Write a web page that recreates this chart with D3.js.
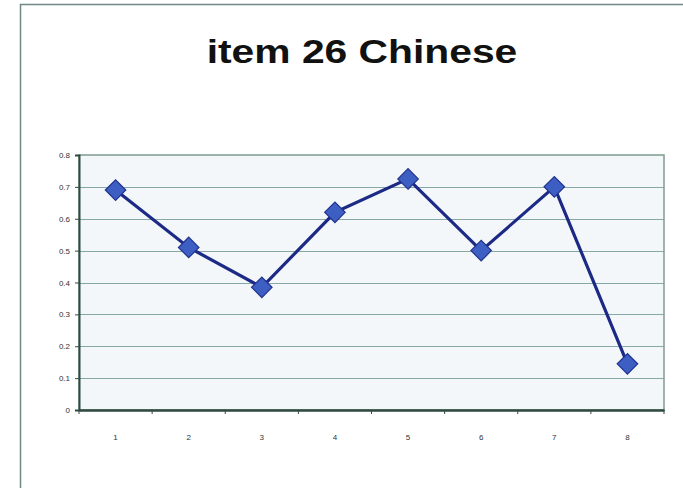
<!DOCTYPE html>
<html>
<head>
<meta charset="utf-8">
<script src="https://cdn.jsdelivr.net/npm/d3@7"></script>
<style>
    body { margin: 0; background: #fff; }
    svg { display: block; font-family: "Liberation Sans", Arial, sans-serif; }
</style>
</head>
<body>
<svg id="chart" width="683" height="488"></svg>
<script>
"use strict";

// data
const title = "item 26 Chinese";
const categories = ["1", "2", "3", "4", "5", "6", "7", "8"];
const values = [0.69, 0.51, 0.385, 0.62, 0.725, 0.50, 0.70, 0.145];
const yTicks = [0, 0.1, 0.2, 0.3, 0.4, 0.5, 0.6, 0.7, 0.8];

const svg = d3.select("#chart");
const plot = { left: 79, right: 664, top: 155, bottom: 410 };

// outer frame
svg.append("path")
    .attr("d", "M20.5,488 V4.5 H683")
    .attr("fill", "none")
    .attr("stroke", "#6f8884")
    .attr("stroke-width", 1.5);

svg.append("text")
    .attr("x", 0).attr("y", 0)
    .attr("transform", "translate(362,63) scale(1.2,1)")
    .attr("text-anchor", "middle")
    .attr("font-size", 34)
    .attr("font-weight", "bold")
    .attr("fill", "#111")
    .text(title);

const x = d3.scaleBand().domain(categories).range([plot.left, plot.right]);
const y = d3.scaleLinear().domain([0, 0.8]).range([plot.bottom, plot.top]);

svg.append("rect")
    .attr("x", plot.left).attr("y", plot.top)
    .attr("width", plot.right - plot.left).attr("height", plot.bottom - plot.top)
    .attr("fill", "#f3f7fa");

// gridlines
svg.append("g")
    .selectAll("line")
    .data(yTicks.slice(1, -1))
    .join("line")
    .attr("x1", plot.left).attr("x2", plot.right)
    .attr("y1", d => Math.round(y(d)) + 0.5).attr("y2", d => Math.round(y(d)) + 0.5)
    .attr("stroke", "#86a8a6")
    .attr("stroke-width", 1.2);

svg.append("rect")
    .attr("x", plot.left).attr("y", plot.top)
    .attr("width", plot.right - plot.left).attr("height", plot.bottom - plot.top)
    .attr("fill", "none")
    .attr("stroke", "#7f9c90")
    .attr("stroke-width", 1.5);

// y axis
const yAxis = svg.append("g")
    .attr("transform", `translate(${plot.left},0)`)
    .call(d3.axisLeft(y).tickValues(yTicks).tickSize(4).tickPadding(5)
        .tickFormat(d => d === 0 ? "0" : d3.format(".1f")(d)));
yAxis.select(".domain").attr("stroke", "#2f4a40").attr("stroke-width", 2);
yAxis.selectAll(".tick line").attr("stroke", "#2f4a40");
yAxis.selectAll("text").attr("font-size", 8).attr("fill", "#333");

// x axis
const xAxis = svg.append("g")
    .attr("transform", `translate(0,${plot.bottom})`)
    .call(d3.axisBottom(x).tickSize(0).tickPadding(24));
xAxis.select(".domain").attr("stroke", "#2f4a40").attr("stroke-width", 2.5);
xAxis.selectAll("text").attr("font-size", 8).attr("fill", "#333");
xAxis.append("g")
    .selectAll("line")
    .data(categories.concat(["end"]))
    .join("line")
    .attr("x1", (d, i) => plot.left + i * x.bandwidth())
    .attr("x2", (d, i) => plot.left + i * x.bandwidth())
    .attr("y1", 0).attr("y2", 4)
    .attr("stroke", "#2f4a40");

// series
const line = d3.line()
    .x((d, i) => x(categories[i]) + x.bandwidth() / 2)
    .y(d => y(d));

svg.append("path")
    .datum(values)
    .attr("d", line)
    .attr("fill", "none")
    .attr("stroke", "#1c2a86")
    .attr("stroke-width", 3.2);

svg.append("g")
    .selectAll("path")
    .data(values)
    .join("path")
    .attr("d", d3.symbol(d3.symbolSquare, 210))
    .attr("transform", (d, i) => `translate(${x(categories[i]) + x.bandwidth() / 2},${y(d)}) rotate(45)`)
    .attr("fill", "#3d5fc4")
    .attr("stroke", "#22338f")
    .attr("stroke-width", 1.2);
</script>
</body>
</html>
